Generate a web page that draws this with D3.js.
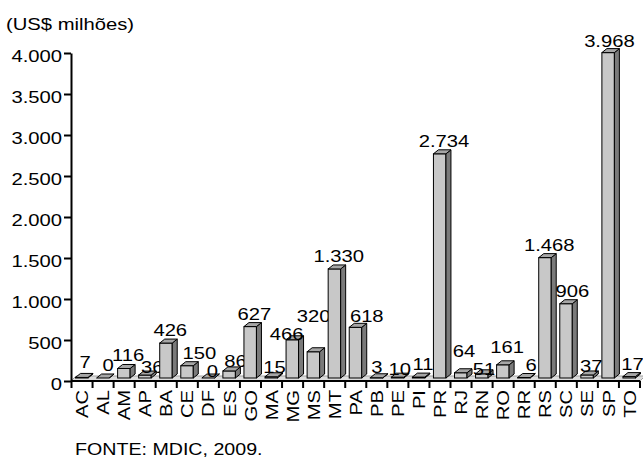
<!DOCTYPE html>
<html>
<head>
<meta charset="utf-8">
<script src="https://cdn.jsdelivr.net/npm/d3@7"></script>
<style>
  body { margin: 0; background: #fff; }
  svg { display: block; font-family: "Liberation Sans", Arial, sans-serif; }
</style>
</head>
<body>
<svg id="chart" width="643" height="460"></svg>
<script>
const states = ["AC","AL","AM","AP","BA","CE","DF","ES","GO","MA","MG","MS","MT","PA","PB","PE","PI","PR","RJ","RN","RO","RR","RS","SC","SE","SP","TO"];
const values = [7, 0, 116, 36, 426, 150, 0, 86, 627, 15, 466, 320, 1330, 618, 3, 10, 11, 2734, 64, 51, 161, 6, 1468, 906, 37, 3968, 17];
const yTicks = [0, 500, 1000, 1500, 2000, 2500, 3000, 3500, 4000];

// hand nudges of the value labels, as in the original layout [dx, dy]
const labelNudge = {
  AC: [-1, -2], AL: [1, 0], AP: [3, 5], CE: [8, 0], DF: [0, 6], ES: [2, 3],
  MA: [-1, 3], MG: [-10, 7], MS: [-4, -23], PA: [7, 2], PB: [-4, 2], PE: [-2, 5],
  RJ: [-1, -9], RN: [-2, 8], RO: [0, -5], RR: [3, 0], SC: [2, 0], SE: [0, 4], SP: [-3, 1],
  TO: [-1, 0]
};

const svg = d3.select("#chart");
const sx = 1.19;   // the source font is wider than Arial
const fs = 17;

const ptBr = d3.formatLocale({ decimal: ",", thousands: ".", grouping: [3], currency: ["R$", ""] });
const fmt = ptBr.format(",d");

const x = d3.scaleBand().domain(states).range([71.5, 640]).padding(0);
const y = d3.scaleLinear().domain([0, 4000]).range([381, 53]);

const depthX = 5, depthY = 4, lift = 3;
const barOff = 4, barW = 12.5;
const base = y(0) - lift;

// floor
svg.append("polygon")
  .attr("points", [[71, 381], [71 + depthX, 381 - 5], [640 + depthX, 381 - 5], [640, 381]].map(p => p.join(",")).join(" "))
  .attr("fill", "#dcdcdc")
  .attr("stroke", "#a0a0a0");

// bars
const bars = svg.append("g").selectAll("g")
  .data(states.map((s, i) => ({ s, v: values[i] })))
  .enter().append("g");

bars.append("rect")
  .attr("x", d => x(d.s) + barOff)
  .attr("y", d => y(d.v) - lift)
  .attr("width", barW)
  .attr("height", d => base - (y(d.v) - lift))
  .attr("fill", "#c8c8c8")
  .attr("stroke", "#000");

bars.append("polygon")
  .attr("points", d => {
    const x0 = x(d.s) + barOff, x1 = x0 + barW, yt = y(d.v) - lift;
    return [[x1, yt], [x1 + depthX, yt - depthY], [x1 + depthX, base - depthY], [x1, base]].map(p => p.join(",")).join(" ");
  })
  .attr("fill", "#7a7a7a")
  .attr("stroke", "#000");

bars.append("polygon")
  .attr("points", d => {
    const x0 = x(d.s) + barOff, x1 = x0 + barW, yt = y(d.v) - lift;
    return [[x0, yt], [x0 + depthX, yt - depthY], [x1 + depthX, yt - depthY], [x1, yt]].map(p => p.join(",")).join(" ");
  })
  .attr("fill", "#a6a6a6")
  .attr("stroke", "#000");

// value labels
bars.append("text")
  .attr("transform", d => {
    const n = labelNudge[d.s] || [0, 0];
    const lx = x(d.s) + x.bandwidth() / 2 + 4 + n[0];
    const ly = y(d.v) - 10 + n[1];
    return `translate(${lx},${ly}) scale(${sx},1)`;
  })
  .attr("text-anchor", "middle")
  .attr("font-size", fs)
  .attr("fill", "#000")
  .text(d => fmt(d.v));

// y axis
const yAxis = svg.append("g")
  .attr("transform", "translate(71,0)")
  .call(d3.axisLeft(y).tickValues(yTicks).tickSize(7).tickSizeOuter(0).tickFormat(fmt));
yAxis.select(".domain").attr("stroke-width", 2);
yAxis.selectAll(".tick line").attr("stroke-width", 2);
yAxis.selectAll(".tick text")
  .attr("x", null).attr("dy", null)
  .attr("transform", `translate(-9,8.4) scale(${sx},1)`)
  .attr("font-size", fs)
  .attr("font-family", null)
  .attr("fill", "#000");

// x axis
const xAxis = svg.append("g")
  .attr("transform", "translate(0,381)")
  .call(d3.axisBottom(x).tickSize(0).tickSizeOuter(0));
xAxis.select(".domain").attr("d", "M71,0H640").attr("stroke-width", 2);
xAxis.selectAll(".tick text")
  .attr("y", null).attr("dy", null)
  .attr("transform", `rotate(-90) translate(-9,6.1) scale(${sx},1)`)
  .attr("text-anchor", "end")
  .attr("font-size", fs)
  .attr("font-family", null)
  .attr("fill", "#000");

// boundary ticks between categories
xAxis.append("g").selectAll("line")
  .data(states.concat(["end"]))
  .enter().append("line")
  .attr("x1", (d, i) => i < states.length ? x(d) : x.range()[1])
  .attr("x2", (d, i) => i < states.length ? x(d) : x.range()[1])
  .attr("y1", 0).attr("y2", 7)
  .attr("stroke", "#000").attr("stroke-width", 2);

// unit title and source
svg.append("text")
  .attr("transform", `translate(6,30) scale(${sx},1)`)
  .attr("font-size", fs)
  .text("(US$ milhões)");

svg.append("text")
  .attr("transform", `translate(75,455) scale(${sx},1)`)
  .attr("font-size", 16.5)
  .text("FONTE: MDIC, 2009.");
</script>
</body>
</html>
